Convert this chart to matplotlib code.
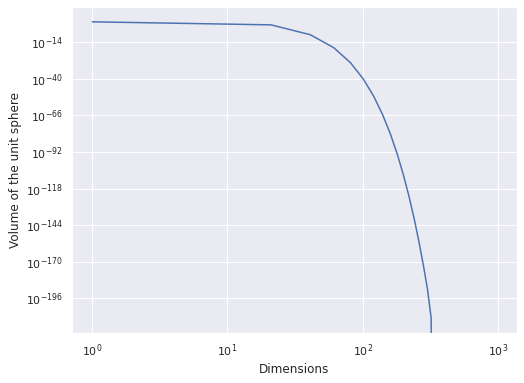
import matplotlib
matplotlib.use("Agg")
import matplotlib.pyplot as plt
import seaborn as sns

# dimensions sampled every 20 from 1 up to 981
dims = list(range(1, 1000, 20))

# volume of the unit sphere (beyond ~341 it drops to 0)
volume_read = [2.0, 1.4e-2, 1.4e-9, 1.0e-18, 2.6e-29, 5.9e-41, 1.9e-53,
               1.1e-66, 1.6e-80, 6.9e-95, 1.0e-109, 5.1e-125, 1.1e-140,
               1.0e-156, 4.5e-173, 9.3e-190, 1.0e-210]
volume = volume_read + [0.0] * (len(dims) - len(volume_read))

ytick_vals = [1e-14, 1e-40, 1e-66, 1e-92, 1e-118, 1e-144, 1e-170, 1e-196]
ytick_labels = [r"$10^{-14}$", r"$10^{-40}$", r"$10^{-66}$", r"$10^{-92}$",
                r"$10^{-118}$", r"$10^{-144}$", r"$10^{-170}$", r"$10^{-196}$"]

sns.set_theme()
plt.rcParams['font.family'] = ['DejaVu Sans']

fig = plt.figure(figsize=(524 / 72, 383 / 72), dpi=72)
ax = fig.add_axes([72 / 524, 50 / 383, 445 / 524, 326 / 383])

ax.plot(dims, volume)
ax.set_xscale('log')
ax.set_yscale('log')
ax.set_yticks(ytick_vals)
ax.set_yticklabels(ytick_labels)
ax.minorticks_off()
ax.set_xlabel('Dimensions')
ax.set_ylabel('Volume of the unit sphere')

fig.savefig('out.png', dpi=72)
